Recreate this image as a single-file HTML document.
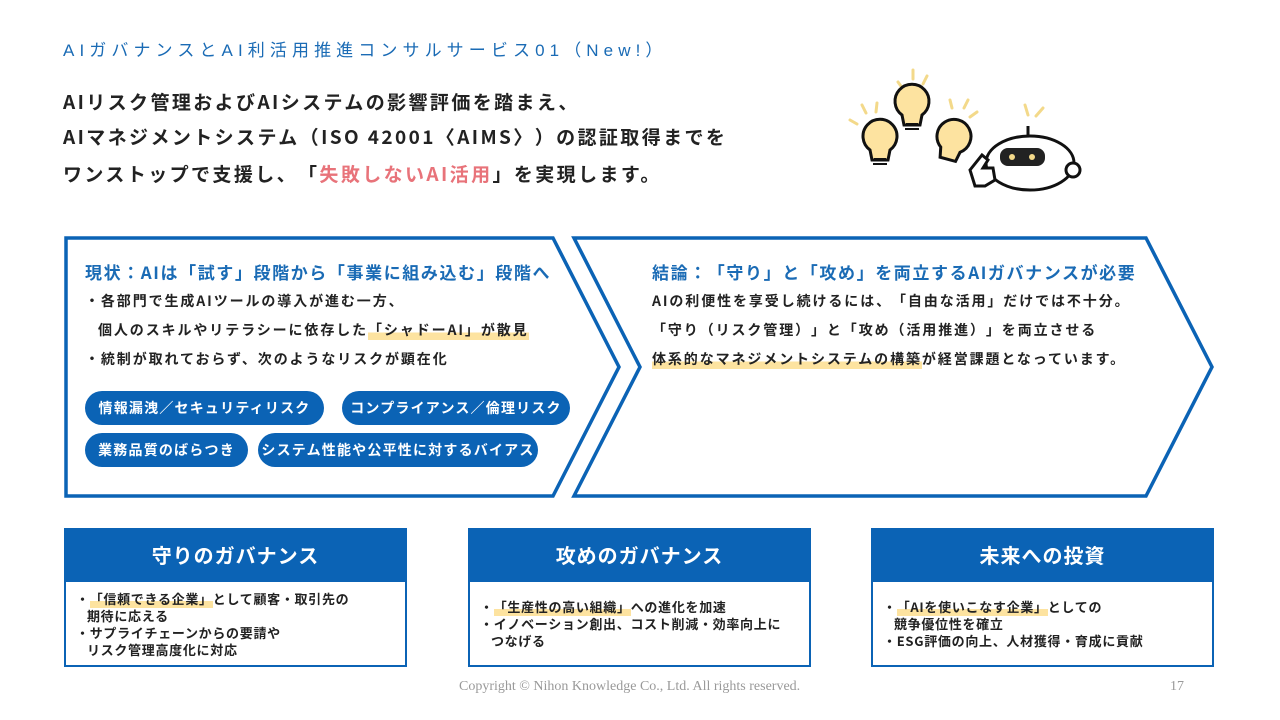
<!DOCTYPE html>
<html><head><meta charset="utf-8"><style>
*{text-spacing-trim:space-all}
body{margin:0;width:1280px;height:720px;background:#fff;position:relative;overflow:hidden;font-family:"Noto Sans CJK JP","Liberation Sans",sans-serif;color:#222;text-spacing-trim:space-all}
.a{position:absolute;white-space:nowrap}
.h{left:63px;top:36px;font-size:17px;color:#1a6bb5;letter-spacing:5.1px;font-family:"Liberation Sans","Noto Sans CJK JP",sans-serif}
.m{left:63px;font-size:19px;font-weight:bold;letter-spacing:2.4px;color:#222}
.t{font-size:17px;font-weight:bold;color:#1a6bb5;letter-spacing:1.6px}
.b{font-size:14px;font-weight:bold;letter-spacing:1.9px}
.p{position:absolute;height:34px;line-height:34px;border-radius:17px;background:#0b63b5;color:#fff;font-size:14px;font-weight:bold;text-align:center;letter-spacing:1.2px}
.hl{background:linear-gradient(transparent 62%,#fde3a0 62%)}
.bx{position:absolute;top:528px;height:139px;border:2px solid #0b63b5;box-sizing:border-box}
.bh{height:52px;background:#0b63b5;color:#fff;font-size:20px;font-weight:bold;text-align:center;line-height:50px;letter-spacing:1px}
.bb{font-size:13px;font-weight:bold;line-height:17px;white-space:nowrap;letter-spacing:.7px}
</style></head><body>
<div class="a h">AIガバナンスとAI利活用推進コンサルサービス01（New!）</div>
<div class="a m" style="top:88px">AIリスク管理およびAIシステムの影響評価を踏まえ、</div>
<div class="a m" style="top:123px">AIマネジメントシステム（ISO 42001〈AIMS〉）の認証取得までを</div>
<div class="a m" style="top:160px">ワンストップで支援し、「<span style="color:#e8737a">失敗しないAI活用</span>」を実現します。</div>

<svg class="a" style="left:840px;top:60px" width="260" height="140" viewBox="0 0 260 140">
<g stroke="#f3d98a" stroke-width="3" stroke-linecap="round">
<line x1="10" y1="60" x2="17" y2="64"/><line x1="22" y1="45" x2="26" y2="53"/><line x1="37" y1="43" x2="36" y2="52"/>
<line x1="58" y1="22" x2="63" y2="29"/><line x1="73" y1="10" x2="73" y2="19"/><line x1="87" y1="16" x2="83" y2="24"/>
<line x1="110" y1="40" x2="112" y2="48"/><line x1="128" y1="40" x2="124" y2="48"/><line x1="137" y1="52" x2="130" y2="57"/>
<line x1="185" y1="45" x2="188" y2="55"/><line x1="203" y1="48" x2="196" y2="56"/>
</g>
<g stroke="#111" stroke-width="3" fill="#fde3a0">
<path d="M30 90 a17 17 0 1 1 20 0 l-2 10 h-16z"/><path d="M62 55 a17 17 0 1 1 20 0 l-2 10 h-16z"/><path d="M103 90 a17 17 0 1 1 20 0 l-2 10 h-16z" transform="rotate(15 113 80)"/>
</g>
<g stroke="#111" stroke-width="2"><line x1="33" y1="104" x2="47" y2="104"/><line x1="34" y1="99" x2="46" y2="99"/><line x1="65" y1="69" x2="79" y2="69"/><line x1="66" y1="64" x2="78" y2="64"/></g>
<ellipse cx="190" cy="103" rx="44" ry="27" fill="#fff" stroke="#111" stroke-width="3"/>
<rect x="160" y="88" width="45" height="18" rx="8" fill="#222"/>
<circle cx="172" cy="97" r="3" fill="#f3d98a"/><circle cx="192" cy="97" r="3" fill="#f3d98a"/>
<line x1="188" y1="66" x2="188" y2="76" stroke="#111" stroke-width="3"/>
<circle cx="233" cy="110" r="7" fill="#fff" stroke="#111" stroke-width="3"/>
<path d="M130 110 l12 -15 l6 5 l-5 8 h10 l2 12 l-10 6 h-10z" fill="#fff" stroke="#111" stroke-width="3"/>
</svg>

<svg class="a" style="left:0;top:0" width="1280" height="720">
<polygon points="66,238 553,238 619,367 553,496 66,496" fill="none" stroke="#0b63b5" stroke-width="3.5"/>
<polygon points="574,238 1146,238 1212,367 1146,496 574,496 640,367" fill="none" stroke="#0b63b5" stroke-width="3.5"/>
</svg>

<div class="a t" style="left:85px;top:259px">現状：AIは「試す」段階から「事業に組み込む」段階へ</div>
<div class="a b" style="left:85px;top:291px">・各部門で生成AIツールの導入が進む一方、</div>
<div class="a b" style="left:98px;top:320px">個人のスキルやリテラシーに依存した<span class="hl">「シャドーAI」が散見</span></div>
<div class="a b" style="left:85px;top:349px">・統制が取れておらず、次のようなリスクが顕在化</div>
<div class="p" style="left:85px;top:391px;width:239px">情報漏洩／セキュリティリスク</div>
<div class="p" style="left:342px;top:391px;width:228px">コンプライアンス／倫理リスク</div>
<div class="p" style="left:85px;top:433px;width:163px">業務品質のばらつき</div>
<div class="p" style="left:258px;top:433px;width:280px">システム性能や公平性に対するバイアス</div>

<div class="a t" style="left:652px;top:259px">結論：「守り」と「攻め」を両立するAIガバナンスが必要</div>
<div class="a b" style="left:652px;top:291px">AIの利便性を享受し続けるには、「自由な活用」だけでは不十分。</div>
<div class="a b" style="left:652px;top:320px">「守り（リスク管理）」と「攻め（活用推進）」を両立させる</div>
<div class="a b" style="left:652px;top:349px"><span class="hl">体系的なマネジメントシステムの構築</span>が経営課題となっています。</div>

<div class="bx" style="left:64px;width:343px"><div class="bh">守りのガバナンス</div>
<div class="bb" style="padding:8px 0 0 10px">・<span class="hl">「信頼できる企業」</span>として顧客・取引先の<br>&nbsp;&nbsp;&nbsp;期待に応える<br>・サプライチェーンからの要請や<br>&nbsp;&nbsp;&nbsp;リスク管理高度化に対応</div></div>
<div class="bx" style="left:468px;width:343px"><div class="bh">攻めのガバナンス</div>
<div class="bb" style="padding:16px 0 0 10px">・<span class="hl">「生産性の高い組織」</span>への進化を加速<br>・イノベーション創出、コスト削減・効率向上に<br>&nbsp;&nbsp;&nbsp;つなげる</div></div>
<div class="bx" style="left:871px;width:343px"><div class="bh">未来への投資</div>
<div class="bb" style="padding:16px 0 0 10px">・<span class="hl">「AIを使いこなす企業」</span>としての<br>&nbsp;&nbsp;&nbsp;競争優位性を確立<br>・ESG評価の向上、人材獲得・育成に貢献</div></div>

<div class="a" style="left:459px;top:679px;font-family:'Liberation Serif',serif;font-size:14px;color:#999">Copyright © Nihon Knowledge Co., Ltd. All rights reserved.</div>
<div class="a" style="left:1170px;top:679px;font-family:'Liberation Serif',serif;font-size:14px;color:#999">17</div>
</body></html>
